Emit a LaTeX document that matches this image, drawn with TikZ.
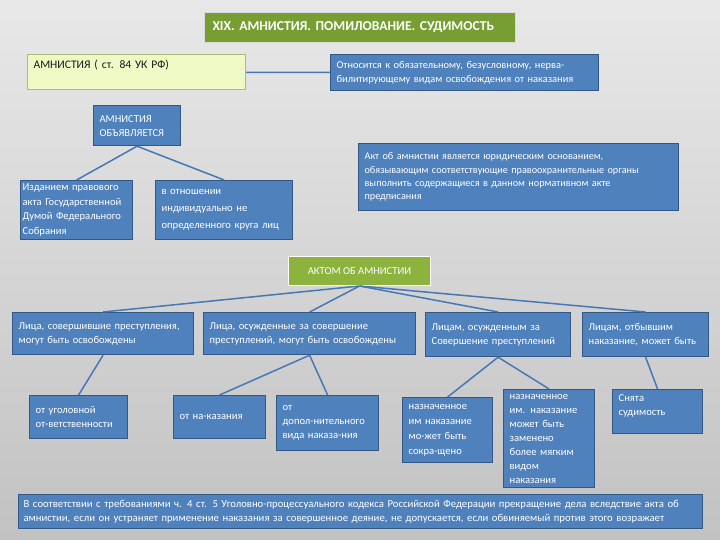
\documentclass[tikz,border=0pt]{standalone}
\usepackage{fontspec}
\setmainfont{Carlito}
\usepackage{tikz}
\usetikzlibrary{positioning}

\definecolor{boxblue}{RGB}{79,129,189}
\definecolor{boxedge}{RGB}{52,88,134}
\definecolor{linkblue}{RGB}{70,120,182}
\definecolor{titlegreen}{RGB}{118,158,50}
\definecolor{aktgreen}{RGB}{140,179,62}
\definecolor{paleyellow}{RGB}{238,249,198}
\definecolor{paleedge}{RGB}{170,190,120}

\begin{document}
\begin{tikzpicture}[
  x=1pt, y=-1pt,
  box/.style={draw=boxedge, line width=1.2pt, fill=boxblue, text=white, align=left,
    anchor=north west, inner xsep=6pt, inner ysep=3pt, font=\fontsize{10.6}{14}\selectfont},
  greenbox/.style={draw=white, line width=1pt, fill=aktgreen, text=white, anchor=north west,
    inner xsep=7pt, font=\fontsize{10.6}{12}\selectfont},
  link/.style={draw=linkblue, line width=1.5pt}
]
\shade[top color=black!9, bottom color=black!24] (0,0) rectangle (720,540);
\useasboundingbox (0,0) rectangle (720,540);

% header
\node[greenbox, draw=black!15, fill=titlegreen, minimum width=311pt, minimum height=30pt,
  text width=295pt, inner xsep=8pt, font=\fontsize{13.6}{15}\selectfont\bfseries] (title) at (204,12)
  {XIX. АМНИСТИЯ. ПОМИЛОВАНИЕ. СУДИМОСТЬ};

% amnesty
\node[box, draw=paleedge, fill=paleyellow, text=black!90, minimum width=218pt, text width=206pt,
  text height=11pt, text depth=18pt, font=\fontsize{11.6}{14}\selectfont] (amn) at (27,54)
  {АМНИСТИЯ ( ст. 84 УК РФ)};
\node[box, minimum width=268pt, minimum height=36pt, text width=256pt,
  font=\fontsize{10.4}{14}\selectfont] (rel) at (330,54)
  {Относится к обязательному, безусловному, нерва-\\билитирующему видам освобождения от наказания};

\node[box, minimum width=87pt, minimum height=40pt, text width=75pt] (obj) at (93,105)
  {АМНИСТИЯ\\ОБЪЯВЛЯЕТСЯ};
\node[box, inner xsep=2pt, minimum width=112pt, minimum height=59pt, text width=108pt,
  font=\fontsize{10.6}{14.5}\selectfont] (izd) at (20,180)
  {Изданием правового\\акта Государственной\\Думой Федерального\\Собрания};
\node[box, minimum width=137pt, minimum height=59pt, text width=125pt,
  font=\fontsize{10.6}{17}\selectfont] (otn) at (155,180)
  {в отношении\\индивидуально не\\определенного круга лиц};
\node[box, minimum width=320pt, minimum height=67pt, text width=308pt,
  font=\fontsize{10.2}{13.3}\selectfont] (akt) at (358,143)
  {Акт об амнистии является юридическим основанием,\\обязывающим соответствующие правоохранительные органы\\выполнить содержащиеся в данном нормативном акте\\предписания};

% act of amnesty
\node[greenbox, minimum width=142pt, minimum height=29pt] (aktom) at (288,256) {АКТОМ ОБ АМНИСТИИ};

\node[box, minimum width=181pt, minimum height=42pt, text width=169pt] (l1) at (12,312)
  {Лица, совершившие преступления,\\могут быть освобождены};
\node[box, minimum width=212pt, minimum height=42pt, text width=200pt] (l2) at (203,312)
  {Лица, осужденные за совершение\\преступлений, могут быть освобождены};
\node[box, minimum width=145pt, minimum height=44pt, text width=133pt] (l3) at (425,312)
  {Лицам, осужденным за\\Совершение преступлений};
\node[box, minimum width=126pt, minimum height=44pt, text width=114pt] (l4) at (582,312)
  {Лицам, отбывшим\\наказание, может быть};

\node[box, minimum width=98pt, minimum height=43pt, text width=86pt] (m1) at (29,395)
  {от уголовной\\от-ветственности};
\node[box, minimum width=92pt, minimum height=43pt, text width=80pt] (m2) at (173,395)
  {от на-казания};
\node[box, minimum width=102pt, minimum height=55pt, text width=90pt] (m3) at (276,395)
  {от\\допол-нительного\\вида наказа-ния};
\node[box, minimum width=90pt, minimum height=65pt, text width=78pt,
  font=\fontsize{10.6}{15}\selectfont] (m4) at (402,397)
  {назначенное\\им наказание\\мо-жет быть\\сокра-щено};
\node[box, minimum width=91pt, minimum height=98pt, text width=79pt] (m5) at (503,389)
  {назначенное\\им. наказание\\может быть\\заменено\\более мягким\\видом\\наказания};
\node[box, minimum width=90pt, minimum height=44pt, text width=78pt] (m6) at (612,389)
  {Снята\\судимость\\~};

\node[box, minimum width=684pt, minimum height=34pt, text width=674pt, inner xsep=5pt,
  font=\fontsize{10.7}{14}\selectfont] (note) at (18,494)
  {В соответствии с требованиями ч. 4 ст. 5 Уголовно-процессуального кодекса Российской Федерации прекращение дела вследствие акта об\\амнистии, если он устраняет применение наказания за совершенное деяние, не допускается, если обвиняемый против этого возражает};

% connectors
\draw[link] (amn) -- (rel);
\draw[link] (obj.south) -- (izd.north);
\draw[link] (obj.south) -- (otn.north);
\foreach \n in {l1,l2,l3,l4}
  \draw[link] (aktom.south) -- (\n.north);
\draw[link] (l1.south) -- (m1.north);
\draw[link] (l2.south) -- (m2.north);
\draw[link] (l2.south) -- (m3.north);
\draw[link] (l3.south) -- (m4.north);
\draw[link] (l3.south) -- (m5.north);
\draw[link] (l4.south) -- (m6.north);
\end{tikzpicture}
\end{document}
